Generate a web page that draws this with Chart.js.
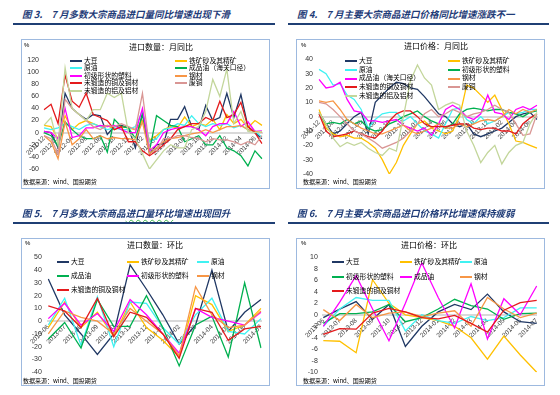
<!DOCTYPE html>
<html lang="zh-CN">
<head>
<meta charset="utf-8">
<title>大宗商品进口数量与价格</title>
<script src="https://cdn.jsdelivr.net/npm/chart.js@4.4.1/dist/chart.umd.min.js"></script>
<style>
  html, body { margin: 0; padding: 0; background: #fff; }
  #page { position: relative; width: 560px; height: 395px; overflow: hidden;
          font-family: "Noto Sans CJK SC", "Noto Sans", sans-serif; color: #000; }
  .fig-title { position: absolute; font-size: 9.5px; font-weight: bold; font-style: italic;
               color: #1F3C78; white-space: pre; line-height: 10px; }
  .fig-title .gap { display: inline-block; width: 9px; }
  .wavy { text-decoration: underline wavy #3CB44B; text-decoration-thickness: 1px; text-underline-offset: 2px; }
  .rule { position: absolute; height: 2px; background: #1F3F74; }
  .box { position: absolute; border: 1px solid #9DB9DF; box-sizing: border-box; }
  .box canvas { position: absolute; left: 0; top: 0; }
  .t { position: absolute; white-space: nowrap; line-height: 1; }
  .ct { font-size: 8px; transform: translateX(-50%); }
  .pct { font-size: 6px; font-family: "Liberation Sans", Arial, sans-serif; }
  .src { font-size: 6px; }
  .lg { position: absolute; white-space: nowrap; font-size: 6.8px; line-height: 8px; }
  .lg i { display: inline-block; width: 12px; height: 2px; vertical-align: middle; margin-right: 2px; }
</style>
</head>
<body>
<div id="page">
  <div class="fig-title" style="left:22px;top:9px">图 3.<span class="gap"></span>7 月多数大宗商品进口量同比增速出现下滑</div>
  <div class="rule" style="left:13px;top:23px;width:262px"></div>
  <div class="box" style="left:21px;top:39px;width:249px;height:150px"><canvas id="c1" width="247" height="148"></canvas></div>
  <div class="t pct" style="left:24px;top:42px">%</div>
  <div class="t ct" style="left:161px;top:43px">进口数量：月同比</div>
  <div class="t src" style="left:23px;top:179px">数据来源：wind、国投期货</div>

  <div class="fig-title" style="left:297px;top:9px">图 4.<span class="gap"></span>7 月主要大宗商品进口价格同比增速涨跌不一</div>
  <div class="rule" style="left:288px;top:23px;width:261px"></div>
  <div class="box" style="left:296px;top:39px;width:249px;height:150px"><canvas id="c2" width="247" height="148"></canvas></div>
  <div class="t pct" style="left:301px;top:42px">%</div>
  <div class="t ct" style="left:436px;top:42px">进口价格：月同比</div>
  <div class="t src" style="left:303px;top:179px">数据来源：wind、国投期货</div>

  <div class="fig-title" style="left:22px;top:208px">图 5.<span class="gap"></span>7 月多数大宗商品<span class="wavy">进口量环比</span>增速出现回升</div>
  <div class="rule" style="left:13px;top:222px;width:262px"></div>
  <div class="box" style="left:21px;top:238px;width:249px;height:148px"><canvas id="c3" width="247" height="146"></canvas></div>
  <div class="t pct" style="left:25px;top:240px">%</div>
  <div class="t ct" style="left:155px;top:241px">进口数量：环比</div>
  <div class="t src" style="left:23px;top:378px">数据来源：wind、国投期货</div>

  <div class="fig-title" style="left:297px;top:208px">图 6.<span class="gap"></span>7 月主要大宗商品进口价格环比增速保持疲弱</div>
  <div class="rule" style="left:288px;top:222px;width:261px"></div>
  <div class="box" style="left:296px;top:238px;width:249px;height:148px"><canvas id="c4" width="247" height="146"></canvas></div>
  <div class="t pct" style="left:301px;top:240px">%</div>
  <div class="t ct" style="left:429px;top:241px">进口价格：环比</div>
  <div class="t src" style="left:303px;top:378px">数据来源：wind、国投期货</div>
</div>

<script>
// ===============================
// Categories
// ===============================
const monthsLong = ["2011-12",
  "2012-01", "2012-02", "2012-03", "2012-04", "2012-05", "2012-06",
  "2012-07", "2012-08", "2012-09", "2012-10", "2012-11", "2012-12",
  "2013-01", "2013-02", "2013-03", "2013-04", "2013-05", "2013-06",
  "2013-07", "2013-08", "2013-09", "2013-10", "2013-11", "2013-12",
  "2014-01", "2014-02", "2014-03", "2014-04", "2014-05", "2014-06", "2014-07"];
const monthsShort = ["2013-06", "2013-07", "2013-08", "2013-09", "2013-10", "2013-11", "2013-12",
  "2014-01", "2014-02", "2014-03", "2014-04", "2014-05", "2014-06", "2014-07"];

// ===============================
// 图3 进口数量：月同比
// ===============================
const qyNames = ["大豆", "铁矿砂及其精矿", "原油", "成品油（海关口径）", "初级形状的塑料", "钢材", "未锻造的铜及铜材", "废铜", "未锻造的铝及铝材"];
const qyBean = [2, 0, -25, 65, 40, 30, 22, 30, 28, -3, 10, 12, 8, -25, 33, -35, -20, -18, 22, 22, 43, 10, 5, 45, 20, 25, 65, 25, 63, 10, 0, -10];
const qyOre = [12, 10, -10, 28, 5, 15, 20, 15, 10, 12, 5, 10, 8, 5, 20, -12, -5, 5, 10, 8, 26, 10, 15, 12, 22, 5, 30, 15, 22, 8, 20, 12];
const qyCrude = [8, 5, 8, 15, 10, 5, 12, 15, 10, 5, 8, 5, 5, 10, 35, -15, -10, 5, 8, 15, 12, 28, 15, 10, 15, 12, 15, 8, 12, 5, 3, -8];
const qyProduct = [0, -5, -22, 18, 5, -5, -10, -10, -5, -32, 22, 10, 8, -10, 30, -30, 28, 20, 12, 10, -15, -10, -5, -20, -20, -5, -25, -30, -38, -55, -30, -43];
const qyPlastic = [2, 0, -10, 40, -8, -5, 8, 8, 12, 10, 12, 5, 0, 0, 40, -30, -20, 0, 5, 8, 10, 10, 5, -5, 10, 15, 15, 35, 10, 18, 2, 3];
const qySteel = [-5, -15, -43, 18, -20, -10, 5, -10, -5, -10, -8, -10, -10, -12, 18, -35, -25, -15, -10, -8, -5, -2, 0, 5, 0, 5, 10, 10, 12, 5, 2, 1];
const qyCopper = [38, 47, 15, 95, 52, 42, 65, 30, 25, 20, 5, 10, -15, -15, -30, -38, -30, -20, -10, 5, 10, 15, 15, 25, 20, 52, 25, 30, 50, 10, 0, -18];
const qyScrap = [-5, -10, -35, 55, 40, 30, 20, 10, 5, 12, 10, 15, 10, 5, 65, -25, -30, -10, -10, -5, -5, -8, -10, -15, -10, -12, -12, -15, -20, -15, -20, -5];
const qyAlu = [12, 25, -20, 107, 40, 30, 20, 38, 38, 65, 58, 65, 0, -10, -35, -60, -45, -30, -20, -25, -25, 5, 10, 35, 88, 60, 105, 15, 35, 2, 0, 2];
const qyTicks = [-60, -40, -20, 0, 20, 40, 60, 80, 100, 120];

// ===============================
// 图4 进口价格：月同比
// ===============================
const pyNames = ["大豆", "铁矿砂及其精矿", "原油", "初级形状的塑料", "成品油（海关口径）", "钢材", "未锻造的铜及铜材", "废铜", "未锻造的铝及铝材"];
const pyBean = [3, -5, -12, -10, -5, 0, 3, -12, 10, 15, 20, 24, 23, 20, 19, 14, 8, 2, 0, -5, -7, -5, -12, -14, -12, -10, -8, -4, 0, 2, 3, -2];
const pyOre = [5, -8, -12, -14, -13, -15, -15, -18, -22, -30, -40, -32, -20, -12, -5, -3, -8, -10, -12, -10, 0, 22, 20, 15, 10, 15, 5, -5, -17, -18, -20, -22];
const pyCrude = [33, 30, 22, 23, 15, 12, 5, -8, -2, 2, 3, 3, -3, 0, -5, -10, -12, -15, -5, 5, 6, -2, -5, 0, -5, -3, 0, 3, 2, 3, 5, 5];
const pyPlastic = [2, -5, -4, -5, -2, -5, -3, -8, -10, -9, -5, -3, 0, 2, 4, 0, -3, -5, -8, -5, 2, 5, 6, 5, 4, 5, 5, 3, 2, 0, 3, 4];
const pyProduct = [26, 20, 21, 24, 12, 4, 3, -3, -3, -4, -3, -2, -6, -8, -10, -8, -13, -5, 5, 8, 5, 0, -2, 2, 15, 3, 2, -2, 5, 7, 5, 8];
const pySteel = [11, 10, 11, 5, -2, -5, -8, -10, -12, -12, -10, -8, -6, -10, -12, -10, -8, -5, -8, -8, -5, -7, -5, -3, -2, -3, 0, 5, 2, 5, 3, 5];
const pyCopper = [2, -10, -14, -13, -12, -10, -12, -14, -15, -10, -3, 2, 4, 4, 0, -5, -7, -7, -7, -6, -5, -5, -8, -9, -8, -8, -10, -10, -12, -5, -1, 2];
const pyScrap = [10, 9, 5, 0, -5, -10, -12, -15, -18, -22, -20, -18, -15, -10, -5, 2, 5, 0, 2, 5, 3, 0, 2, 3, 5, 8, 5, 3, -5, -13, -12, 2];
const pyAlu = [3, -5, -15, -21, -18, -20, -18, -22, -25, -27, -22, -24, 0, 25, 36, 27, 22, 5, 8, 10, 8, -10, -20, -32, -25, -20, -33, -25, -20, -18, -5, 3];
const pyTicks = [-40, -30, -20, -10, 0, 10, 20, 30, 40];

// ===============================
// 图5 进口数量：环比
// ===============================
const qmNames = ["大豆", "铁矿砂及其精矿", "原油", "成品油", "初级形状的塑料", "钢材", "未锻造的铜及铜材"];
const qmBean = [33, 5, -10, -26, -10, 44, 25, 5, -18, -3, 40, -8, 7, 17];
const qmOre = [-5, 15, -5, 7, -12, 15, -5, -15, -28, 20, 13, -8, -3, 10];
const qmCrude = [-3, 18, -19, 19, -20, 15, 14, -5, -18, 5, 18, -8, -10, 2];
const qmProduct = [-14, -1, -21, 17, -4, -4, 20, -5, -35, -3, 4, -28, 30, -21];
const qmPlastic = [2, 14, -3, 6, -8, 17, 5, -10, -25, 10, 3, 0, -3, 7];
const qmSteel = [-10, 8, 3, 0, -10, 10, 0, -10, -27, 27, 5, -5, -3, 8];
const qmCopper = [12, 8, -5, 18, -12, 7, 3, -10, -29, 10, 7, -15, -6, -4];
const qmTicks = [-40, -30, -20, -10, 0, 10, 20, 30, 40, 50];

// ===============================
// 图6 进口价格：环比
// ===============================
const pmNames = ["大豆", "铁矿砂及其精矿", "原油", "初级形状的塑料", "成品油", "钢材", "未锻造的铜及铜材"];
const pmBean = [-0.5, 1, 2.3, -0.8, 1.8, -5.5, -2, 0.5, 1.8, 0.9, 3.6, 0.5, -1.2, -1.5];
const pmOre = [-4.5, -4.6, -6.6, 6.1, 2, 0, -0.5, -1, -2, -4, -7.7, -3.7, -7, -10];
const pmCrude = [-2, 1, 3, 2.5, 2.5, -2.8, 0, -1, -1.5, -0.3, -1, -0.5, 1.2, 1.2];
const pmPlastic = [-1.5, 0.2, 0.2, 0.5, 1.8, -1.2, -0.5, 1, 2.7, 1.6, 1, -0.8, 0.2, 0.3];
const pmProduct = [-2, 2.2, 6.8, 1, -4.5, 2, 9, 3, -2.3, 5.4, -4.2, 2.8, 0, 5];
const pmSteel = [0.9, -1, 1.8, -0.5, 0.3, 0.5, -0.3, 0.3, 0.7, -2, 3, 1, -0.5, 0.3];
const pmCopper = [-3.4, -2.4, -2.5, 0.3, 1.1, 0.5, -0.5, -0.7, -0.1, -1.5, -3, 0.8, 2.1, 2.5];
const pmTicks = [-10, -8, -6, -4, -2, 0, 2, 4, 6, 8, 10];

// series colours, by legend position (Excel default order)
const palette = ["#203864", "#FFC000", "#40F2F2", "#00B050", "#FF00FF", "#F79646", "#E41A1C", "#D99694", "#C3D69B"];

Chart.defaults.font.family = '"Liberation Sans", Arial, sans-serif';
Chart.defaults.color = "#404040";

// ===============================
// Helpers
// ===============================
function lineChart(id, labels, series, ticks, geo) {
  const datasets = series.map((data, k) => ({
    data: data,
    borderColor: palette[k],
    backgroundColor: palette[k],
    borderWidth: 1.3,
    pointRadius: 0,
    tension: 0,
    fill: false,
    order: -k
  }));

  new Chart(document.getElementById(id), {
    type: "line",
    data: { labels: labels, datasets: datasets },
    options: {
      responsive: false,
      animation: false,
      devicePixelRatio: 1,
      layout: { padding: geo.pad },
      plugins: { legend: { display: false }, tooltip: { enabled: false } },
      scales: {
        x: {
          position: { y: 0 },
          grid: { display: false, drawTicks: false },
          border: { display: true, color: "#D9D9D9", width: 2 },
          ticks: {
            autoSkip: false,
            minRotation: 45,
            maxRotation: 45,
            padding: 2,
            font: { size: 6.5 },
            color: "#404040",
            callback: function (v, i) {
              return i % geo.every === 0 ? this.getLabelForValue(v) : "";
            }
          },
          afterFit: (s) => { s.height = 0; s.paddingLeft = 0; s.paddingRight = 0; }
        },
        y: {
          min: ticks[0],
          max: ticks[ticks.length - 1],
          grid: { display: false, drawTicks: false },
          border: { display: false },
          ticks: { stepSize: ticks[1] - ticks[0], padding: geo.tickPad, font: { size: 7 }, color: "#333" },
          afterFit: (s) => { s.width = geo.axisW; }
        }
      }
    }
  });
}

function buildLegend(names, cols, top, step) {
  const page = document.getElementById("page");
  names.forEach((name, k) => {
    const el = document.createElement("div");
    el.className = "lg";
    el.style.left = cols[k % cols.length] + "px";
    el.style.top = (top + Math.floor(k / cols.length) * step - 4) + "px";
    el.innerHTML = '<i style="background:' + palette[k] + '"></i>' + name;
    page.appendChild(el);
  });
}

// ===============================
// Charts
// ===============================
lineChart("c1", monthsLong,
  [qyBean, qyOre, qyCrude, qyProduct, qyPlastic, qySteel, qyCopper, qyScrap, qyAlu], qyTicks,
  { pad: { left: 0, top: 20, right: 7, bottom: 19 }, axisW: 22, tickPad: 5, every: 2 });
buildLegend(qyNames, [70, 175], 59.5, 7.6);

lineChart("c2", monthsLong,
  [pyBean, pyOre, pyCrude, pyPlastic, pyProduct, pySteel, pyCopper, pyScrap, pyAlu], pyTicks,
  { pad: { left: 0, top: 19.3, right: 7, bottom: 14 }, axisW: 22, tickPad: 6, every: 2 });
buildLegend(pyNames, [345, 448], 60, 8.7);

lineChart("c3", monthsShort,
  [qmBean, qmOre, qmCrude, qmProduct, qmPlastic, qmSteel, qmCopper], qmTicks,
  { pad: { left: 0, top: 18.3, right: 8, bottom: 12.7 }, axisW: 26.3, tickPad: 6.5, every: 1 });
buildLegend(qmNames, [57, 127, 197], 261, 14);

lineChart("c4", monthsShort,
  [pmBean, pmOre, pmCrude, pmPlastic, pmProduct, pmSteel, pmCopper], pmTicks,
  { pad: { left: 0, top: 18.3, right: 7.3, bottom: 12.7 }, axisW: 26.3, tickPad: 5.5, every: 1 });
buildLegend(pmNames, [332, 400, 460], 261, 14.5);
</script>
</body>
</html>
